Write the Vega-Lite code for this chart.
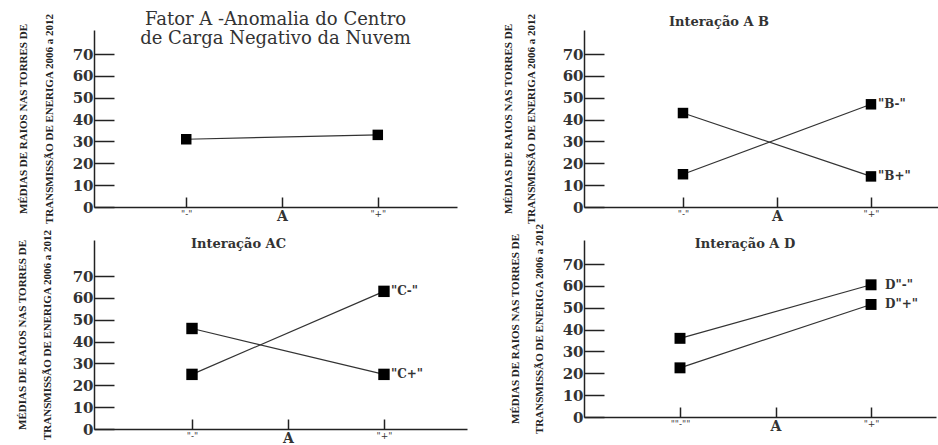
{
  "$schema": "https://vega.github.io/schema/vega-lite/v6.json",
  "background": "white",
  "padding": {"left": 16, "top": 11, "right": 0, "bottom": 0},
  "columns": 2,
  "align": "none",
  "bounds": "flush",
  "spacing": {"row": 33, "column": 117},
  "config": {
    "view": {"stroke": null},
    "axis": {
      "grid": false,
      "domainColor": "#222",
      "domainWidth": 1.5,
      "tickColor": "#222",
      "tickWidth": 1.5,
      "labelColor": "#333",
      "titleColor": "#222",
      "labelOverlap": false
    },
    "title": {"font": "DejaVu Serif", "color": "#333", "anchor": "middle", "frame": "group"}
  },
  "datasets": {
    "fatorA": [
      {"serie": "A", "nivel": 1, "media": 31, "rotulo": ""},
      {"serie": "A", "nivel": 3, "media": 33, "rotulo": ""}
    ],
    "ab": [
      {"serie": "B-", "nivel": 1, "media": 15, "rotulo": "\"B-\""},
      {"serie": "B-", "nivel": 3, "media": 47, "rotulo": "\"B-\""},
      {"serie": "B+", "nivel": 1, "media": 43, "rotulo": "\"B+\""},
      {"serie": "B+", "nivel": 3, "media": 14, "rotulo": "\"B+\""}
    ],
    "ac": [
      {"serie": "C-", "nivel": 1, "media": 25, "rotulo": "\"C-\""},
      {"serie": "C-", "nivel": 3, "media": 63, "rotulo": "\"C-\""},
      {"serie": "C+", "nivel": 1, "media": 46, "rotulo": "\"C+\""},
      {"serie": "C+", "nivel": 3, "media": 25, "rotulo": "\"C+\""}
    ],
    "ad": [
      {"serie": "D-", "nivel": 1, "media": 36, "rotulo": "D\"-\""},
      {"serie": "D-", "nivel": 3, "media": 60.5, "rotulo": "D\"-\""},
      {"serie": "D+", "nivel": 1, "media": 22.5, "rotulo": "D\"+\""},
      {"serie": "D+", "nivel": 3, "media": 51.5, "rotulo": "D\"+\""}
    ]
  },
  "concat": [
    {
      "width": 363,
      "height": 177,
      "title": {"text": ["Fator A -Anomalia do Centro", "de Carga Negativo da Nuvem"], "fontSize": 18, "fontWeight": "normal", "lineHeight": 19, "offset": -35},
      "data": {"name": "fatorA"},
      "encoding": {
        "x": {"field": "nivel", "type": "quantitative",
          "scale": {"domain": [0.037, 3.827], "nice": false, "zero": false},
          "axis": {"values": [1, 2, 3], "tickSize": -10, "title": null, "labelPadding": 12,
            "labelExpr": "datum.value == 1 ? '\"-\"' : datum.value == 2 ? 'A' : '\"+\"'",
            "labelFont": "DejaVu Serif",
            "labelFontSize": {"condition": {"test": "datum.value == 2", "value": 14}, "value": 9},
            "labelFontWeight": {"condition": {"test": "datum.value == 2", "value": "bold"}, "value": "normal"}}},
        "y": {"field": "media", "type": "quantitative",
          "scale": {"domain": [0, 81], "nice": false},
          "axis": {"values": [0, 10, 20, 30, 40, 50, 60, 70], "tickSize": -20, "labelPadding": 21,
            "labelFont": "DejaVu Serif", "labelFontSize": 15, "labelFontWeight": "bold",
            "title": ["MÉDIAS DE RAIOS NAS TORRES DE", "TRANSMISSÃO DE ENERIGA 2006 a 2012"],
            "titleFont": "Liberation Serif", "titleFontSize": 11, "titleFontWeight": "bold",
            "titleLineHeight": 26, "titlePadding": 18}}
      },
      "layer": [
        {"mark": {"type": "line", "color": "#333", "strokeWidth": 1.2}, "encoding": {"detail": {"field": "serie"}}},
        {"mark": {"type": "point", "shape": "square", "filled": true, "size": 110, "color": "black", "opacity": 1}}
      ]
    },
    {
      "width": 362,
      "height": 177,
      "title": {"text": "Interação A B", "fontSize": 13, "fontWeight": "bold", "offset": -16, "dx": -46},
      "data": {"name": "ab"},
      "encoding": {
        "x": {"field": "nivel", "type": "quantitative",
          "scale": {"domain": [-0.053, 3.798], "nice": false, "zero": false},
          "axis": {"values": [1, 2, 3], "tickSize": -10, "title": null, "labelPadding": 12,
            "labelExpr": "datum.value == 1 ? '\"-\"' : datum.value == 2 ? 'A' : '\"+\"'",
            "labelFont": "DejaVu Serif",
            "labelFontSize": {"condition": {"test": "datum.value == 2", "value": 14}, "value": 9},
            "labelFontWeight": {"condition": {"test": "datum.value == 2", "value": "bold"}, "value": "normal"}}},
        "y": {"field": "media", "type": "quantitative",
          "scale": {"domain": [0, 81], "nice": false},
          "axis": {"values": [0, 10, 20, 30, 40, 50, 60, 70], "tickSize": -20, "labelPadding": 21,
            "labelFont": "DejaVu Serif", "labelFontSize": 15, "labelFontWeight": "bold",
            "title": ["MÉDIAS DE RAIOS NAS TORRES DE", "TRANSMISSÃO DE ENERIGA 2006 a 2012"],
            "titleFont": "Liberation Serif", "titleFontSize": 11, "titleFontWeight": "bold",
            "titleLineHeight": 23, "titlePadding": 26}}
      },
      "layer": [
        {"mark": {"type": "line", "color": "#333", "strokeWidth": 1.2}, "encoding": {"detail": {"field": "serie"}}},
        {"mark": {"type": "point", "shape": "square", "filled": true, "size": 110, "color": "black", "opacity": 1}},
        {"transform": [{"filter": "datum.nivel == 3"}],
          "mark": {"type": "text", "align": "left", "baseline": "middle", "dx": 7, "font": "DejaVu Serif", "fontSize": 12, "fontWeight": "bold", "color": "#333"},
          "encoding": {"text": {"field": "rotulo"}}}
      ]
    },
    {
      "width": 373,
      "height": 189,
      "title": {"text": "Interação AC", "fontSize": 13, "fontWeight": "bold", "offset": -22, "dx": -42},
      "data": {"name": "ac"},
      "encoding": {
        "x": {"field": "nivel", "type": "quantitative",
          "scale": {"domain": [-0.021, 3.865], "nice": false, "zero": false},
          "axis": {"values": [1, 2, 3], "tickSize": -10, "title": null, "labelPadding": 12,
            "labelExpr": "datum.value == 1 ? '\"-\"' : datum.value == 2 ? 'A' : '\"+\"'",
            "labelFont": "DejaVu Serif",
            "labelFontSize": {"condition": {"test": "datum.value == 2", "value": 14}, "value": 9},
            "labelFontWeight": {"condition": {"test": "datum.value == 2", "value": "bold"}, "value": "normal"}}},
        "y": {"field": "media", "type": "quantitative",
          "scale": {"domain": [0, 86.5], "nice": false},
          "axis": {"values": [0, 10, 20, 30, 40, 50, 60, 70], "tickSize": -20, "labelPadding": 21,
            "labelFont": "DejaVu Serif", "labelFontSize": 15, "labelFontWeight": "bold",
            "title": ["MÉDIAS DE RAIOS NAS TORRES DE", "TRANSMISSÃO DE ENERIGA 2006 a 2012"],
            "titleFont": "Liberation Serif", "titleFontSize": 11, "titleFontWeight": "bold",
            "titleLineHeight": 25, "titlePadding": 20}}
      },
      "layer": [
        {"mark": {"type": "line", "color": "#333", "strokeWidth": 1.2}, "encoding": {"detail": {"field": "serie"}}},
        {"mark": {"type": "point", "shape": "square", "filled": true, "size": 130, "color": "black", "opacity": 1}},
        {"transform": [{"filter": "datum.nivel == 3"}],
          "mark": {"type": "text", "align": "left", "baseline": "middle", "dx": 7, "font": "DejaVu Serif", "fontSize": 12, "fontWeight": "bold", "color": "#333"},
          "encoding": {"text": {"field": "rotulo"}}}
      ]
    },
    {
      "width": 352,
      "height": 177,
      "title": {"text": "Interação A D", "fontSize": 13, "fontWeight": "bold", "offset": -28, "dx": -15},
      "data": {"name": "ad"},
      "encoding": {
        "x": {"field": "nivel", "type": "quantitative",
          "scale": {"domain": [-0.005, 3.68], "nice": false, "zero": false},
          "axis": {"values": [1, 2, 3], "tickSize": -10, "title": null, "labelPadding": 12,
            "labelExpr": "datum.value == 1 ? '\"\"-\"\"' : datum.value == 2 ? 'A' : '\"+\"'",
            "labelFont": "DejaVu Serif",
            "labelFontSize": {"condition": {"test": "datum.value == 2", "value": 14}, "value": 9},
            "labelFontWeight": {"condition": {"test": "datum.value == 2", "value": "bold"}, "value": "normal"}}},
        "y": {"field": "media", "type": "quantitative",
          "scale": {"domain": [0, 81], "nice": false},
          "axis": {"values": [0, 10, 20, 30, 40, 50, 60, 70], "tickSize": -20, "labelPadding": 21,
            "labelFont": "DejaVu Serif", "labelFontSize": 15, "labelFontWeight": "bold",
            "title": ["MÉDIAS DE RAIOS NAS TORRES DE", "TRANSMISSÃO DE ENERIGA 2006 a 2012"],
            "titleFont": "Liberation Serif", "titleFontSize": 11, "titleFontWeight": "bold",
            "titleLineHeight": 24, "titlePadding": 18}}
      },
      "layer": [
        {"mark": {"type": "line", "color": "#333", "strokeWidth": 1.2}, "encoding": {"detail": {"field": "serie"}}},
        {"mark": {"type": "point", "shape": "square", "filled": true, "size": 120, "color": "black", "opacity": 1}},
        {"transform": [{"filter": "datum.nivel == 3"}],
          "mark": {"type": "text", "align": "left", "baseline": "middle", "dx": 14, "font": "DejaVu Serif", "fontSize": 12, "fontWeight": "bold", "color": "#333"},
          "encoding": {"text": {"field": "rotulo"}}}
      ]
    }
  ]
}
